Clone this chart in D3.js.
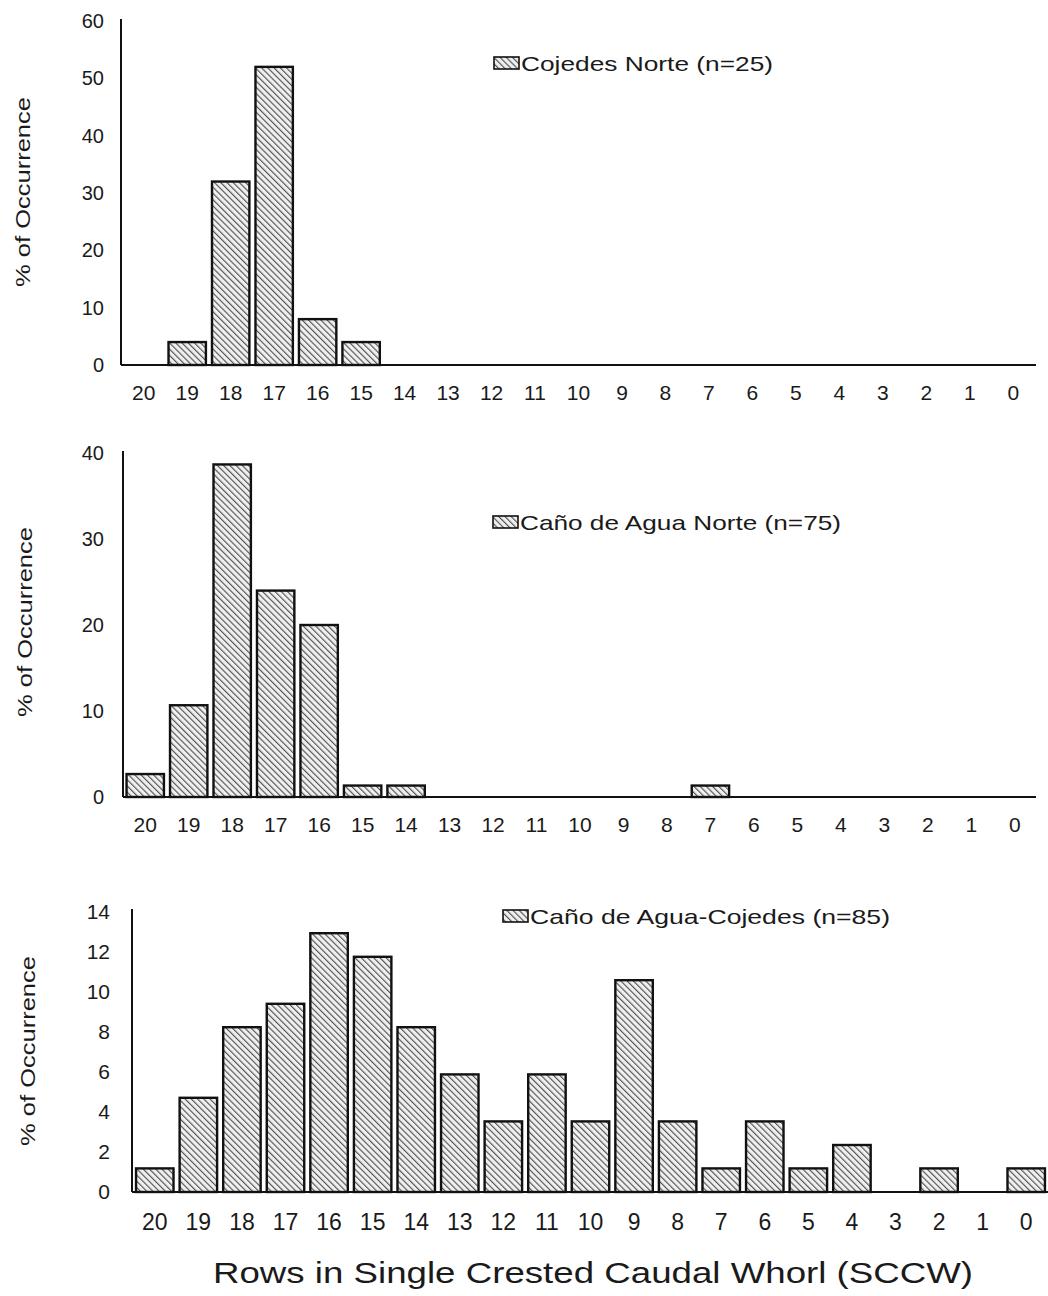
<!DOCTYPE html>
<html>
<head>
<meta charset="utf-8">
<script src="https://cdn.jsdelivr.net/npm/d3@7"></script>
<style>
  html, body { margin: 0; padding: 0; background: #fff; }
  svg { display: block; font-family: "Liberation Sans", Arial, Helvetica, sans-serif; }
</style>
</head>
<body>
<svg id="chart" width="1048" height="1296"></svg>
<script>
// ---------- data ----------
const categories = ["20","19","18","17","16","15","14","13","12","11","10","9","8","7","6","5","4","3","2","1","0"];

const cojedesNorte = [0, 4, 32, 52, 8, 4, 0, 0, 0, 0, 0, 0, 0, 0, 0, 0, 0, 0, 0, 0, 0];
const canoAguaNorte = [2.67, 10.67, 38.67, 24, 20, 1.33, 1.33, 0, 0, 0, 0, 0, 0, 1.33, 0, 0, 0, 0, 0, 0, 0];
const canoAguaCojedes = [1.18, 4.71, 8.24, 9.41, 12.94, 11.76, 8.24, 5.88, 3.53, 5.88, 3.53, 10.59, 3.53, 1.18, 3.53, 1.18, 2.35, 0, 1.18, 0, 1.18];

const yTicks1 = [0, 10, 20, 30, 40, 50, 60];
const yTicks2 = [0, 10, 20, 30, 40];
const yTicks3 = [0, 2, 4, 6, 8, 10, 12, 14];

const legend1 = "Cojedes Norte (n=25)";
const legend2 = "Caño de Agua Norte (n=75)";
const legend3 = "Caño de Agua-Cojedes (n=85)";

const yLabel = "% of Occurrence";
const xTitle = "Rows in Single Crested Caudal Whorl (SCCW)";

// ---------- layout ----------
const panels = [
  { values: cojedesNorte, ticks: yTicks1, legend: legend1,
    x0: 122, x1: 1035, axisX: 121, yBase: 365, yTop: 21, axisTop: 19, yMax: 60,
    xLabY: 400, xLabSize: 21, yLabRight: 104, yLabSize: 20,
    legX: 494, legY: 71, legTextLen: 252, legSize: 21,
    yTitleX: 23, yTitleY: 192, axisEnd: 1036 },
  { values: canoAguaNorte, ticks: yTicks2, legend: legend2,
    x0: 123.5, x1: 1036.5, axisX: 123, yBase: 797, yTop: 453, axisTop: 451, yMax: 40,
    xLabY: 832, xLabSize: 21, yLabRight: 104, yLabSize: 20,
    legX: 493, legY: 530, legTextLen: 321, legSize: 21,
    yTitleX: 25, yTitleY: 622, axisEnd: 1036 },
  { values: canoAguaCojedes, ticks: yTicks3, legend: legend3,
    x0: 133, x1: 1048, axisX: 132, yBase: 1192, yTop: 912, axisTop: 909, yMax: 14,
    xLabY: 1230, xLabSize: 23, yLabRight: 110, yLabSize: 21,
    legX: 503, legY: 924, legTextLen: 360, legSize: 21,
    yTitleX: 28, yTitleY: 1051, axisEnd: 1048 }
];

const svg = d3.select("#chart");

// hatch pattern
const defs = svg.append("defs");
const S = 4.4;
const pat = defs.append("pattern")
  .attr("id", "hatch")
  .attr("patternUnits", "userSpaceOnUse")
  .attr("width", S).attr("height", S)
  .attr("patternTransform", "rotate(-45)");
pat.append("rect").attr("width", S).attr("height", S).attr("fill", "#f0f0f0");
pat.append("line").attr("x1", 0.6).attr("y1", 0).attr("x2", 0.6).attr("y2", S)
  .attr("stroke", "#444").attr("stroke-width", 1.05);

panels.forEach(p => {
  const g = svg.append("g");
  const x = d3.scaleBand().domain(categories).range([p.x0, p.x1])
    .paddingInner(0.14).paddingOuter(0.07);
  const y = d3.scaleLinear().domain([0, p.yMax]).range([p.yBase, p.yTop]);

  // bars
  const data = categories.map((c, i) => ({ c, v: p.values[i] })).filter(d => d.v > 0);
  g.selectAll("rect.bar").data(data).join("rect")
    .attr("class", "bar")
    .attr("x", d => x(d.c))
    .attr("width", x.bandwidth())
    .attr("y", d => y(d.v))
    .attr("height", d => y(0) - y(d.v))
    .attr("fill", "url(#hatch)")
    .attr("stroke", "#111")
    .attr("stroke-width", 2.4);

  // x axis (labels, no ticks)
  const xAxis = d3.axisBottom(x).tickSize(0).tickPadding(0);
  const xg = g.append("g").attr("transform", `translate(0,${p.yBase})`).call(xAxis);
  xg.select(".domain").remove();
  xg.selectAll("text")
    .attr("dy", null)
    .attr("y", p.xLabY - p.yBase)
    .attr("font-size", p.xLabSize)
    .attr("font-family", "\"Liberation Sans\", Arial, sans-serif")
    .attr("fill", "#1a1a1a");
  g.append("line")
    .attr("x1", p.axisX).attr("x2", p.axisEnd)
    .attr("y1", p.yBase).attr("y2", p.yBase)
    .attr("stroke", "#111").attr("stroke-width", 2);

  // y axis
  const yAxis = d3.axisLeft(y).tickValues(p.ticks).tickSize(0).tickPadding(0);
  const yg = g.append("g").attr("transform", `translate(${p.yLabRight},0)`).call(yAxis);
  yg.select(".domain").remove();
  yg.selectAll("text")
    .attr("x", 0)
    .attr("font-size", p.yLabSize)
    .attr("font-family", "\"Liberation Sans\", Arial, sans-serif")
    .attr("fill", "#1a1a1a");
  g.append("line")
    .attr("x1", p.axisX).attr("x2", p.axisX)
    .attr("y1", p.axisTop).attr("y2", p.yBase)
    .attr("stroke", "#111").attr("stroke-width", 2);

  // y title
  g.append("text")
    .attr("transform", `translate(${p.yTitleX + 7},${p.yTitleY}) rotate(-90)`)
    .attr("text-anchor", "middle")
    .attr("font-size", 20)
    .attr("textLength", 190)
    .attr("lengthAdjust", "spacingAndGlyphs")
    .attr("fill", "#1a1a1a")
    .text(yLabel);

  // legend
  g.append("rect")
    .attr("x", p.legX).attr("y", p.legY - 14)
    .attr("width", 25).attr("height", 12)
    .attr("fill", "url(#hatch)")
    .attr("stroke", "#111").attr("stroke-width", 1.6);
  g.append("text")
    .attr("x", p.legX + 27).attr("y", p.legY)
    .attr("font-size", p.legSize)
    .attr("textLength", p.legTextLen)
    .attr("lengthAdjust", "spacingAndGlyphs")
    .attr("fill", "#1a1a1a")
    .text(p.legend);
});

// x title
svg.append("text")
  .attr("x", 213).attr("y", 1283)
  .attr("font-size", 30)
  .attr("textLength", 760)
  .attr("lengthAdjust", "spacingAndGlyphs")
  .attr("fill", "#1a1a1a")
  .text(xTitle);
</script>
</body>
</html>
